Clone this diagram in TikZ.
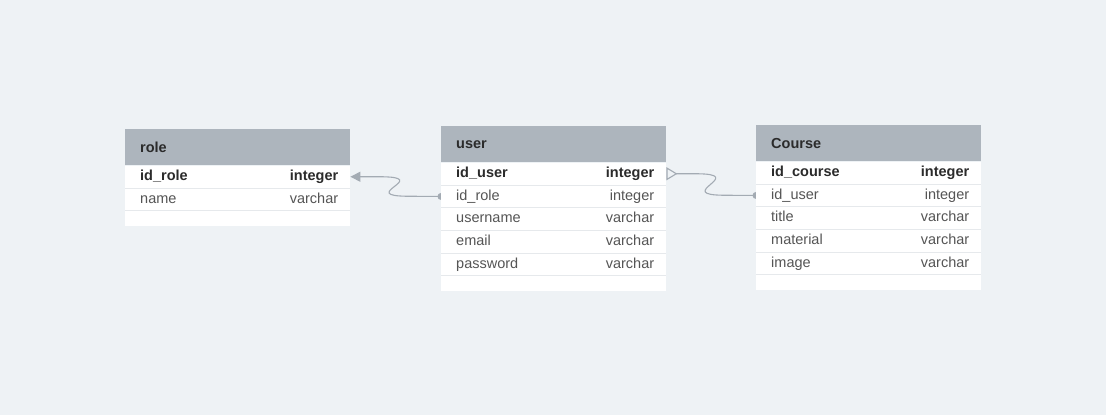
\documentclass[tikz,border=0pt]{standalone}
\usepackage{fontspec}
\setmainfont{Liberation Sans}
\usetikzlibrary{arrows.meta,positioning}
\definecolor{canvas}{HTML}{EEF2F5}
\definecolor{headgray}{HTML}{ADB5BD}
\definecolor{rowline}{HTML}{E6E9EC}
\definecolor{linkgray}{HTML}{A3ABB3}
\definecolor{ink}{HTML}{2B2B2B}
\definecolor{inksoft}{HTML}{555555}
\pgfdeclarelayer{back}
\pgfsetlayers{back,main}

\begin{document}
\begin{tikzpicture}[
  x=1pt,y=-1pt,
  node distance=0pt,
  head/.style={rectangle,fill=headgray,anchor=north west,minimum width=225pt,minimum height=36pt,inner xsep=15pt,inner ysep=0pt,text width=195pt,font=\fontsize{14.5}{17}\selectfont\bfseries,text=ink},
  field/.style={rectangle,fill=white,minimum width=225pt,minimum height=22.3pt,inner xsep=15pt,inner ysep=0pt,text width=195pt,text height=10.5pt,text depth=3pt,font=\fontsize{14.5}{17}\selectfont,text=inksoft},
  keyfield/.style={field,font=\fontsize{14.5}{17}\selectfont\bfseries,text=ink},
  pad/.style={field,minimum height=14.5pt,text height=0pt,text depth=0pt},
  type/.style={inner sep=0pt,text height=10.5pt,text depth=3pt,font=\fontsize{14.5}{17}\selectfont,text=inksoft},
  keytype/.style={type,font=\fontsize{14.5}{17}\selectfont\bfseries,text=ink},
  sep/.style={draw=rowline,line width=1pt},
  link/.style={draw=linkgray,line width=1.1pt}
]
  \begin{pgfonlayer}{back}
    \fill[canvas] (0,0) rectangle (1106,415);
  \end{pgfonlayer}

  % role
  \node[head] (role) at (125,129) {role};
  \node[keyfield,below=of role] (rid) {id\_role};
  \node[field,below=of rid] (rname) {name};
  \node[pad,below=of rname] (rpad) {};
  \node[keytype,left=12pt of rid.east] (ridt) {integer};
  \node[type,left=12pt of rname.east] (rnamet) {varchar};

  % user
  \node[head] (user) at (441,126) {user};
  \node[keyfield,below=of user] (uid) {id\_user};
  \node[field,below=of uid] (urole) {id\_role};
  \node[field,below=of urole] (uname) {username};
  \node[field,below=of uname] (umail) {email};
  \node[field,below=of umail] (upass) {password};
  \node[pad,below=of upass] (upad) {};
  \node[keytype,left=12pt of uid.east] (uidt) {integer};
  \node[type,left=12pt of urole.east] (urolet) {integer};
  \node[type,left=12pt of uname.east] (unamet) {varchar};
  \node[type,left=12pt of umail.east] (umailt) {varchar};
  \node[type,left=12pt of upass.east] (upasst) {varchar};

  % Course
  \node[head] (course) at (756,125) {Course};
  \node[keyfield,below=of course] (cid) {id\_course};
  \node[field,below=of cid] (cuser) {id\_user};
  \node[field,below=of cuser] (ctitle) {title};
  \node[field,below=of ctitle] (cmat) {material};
  \node[field,below=of cmat] (cimg) {image};
  \node[pad,below=of cimg] (cpad) {};
  \node[keytype,left=12pt of cid.east] (cidt) {integer};
  \node[type,left=12pt of cuser.east] (cusert) {integer};
  \node[type,left=12pt of ctitle.east] (ctitlet) {varchar};
  \node[type,left=12pt of cmat.east] (cmatt) {varchar};
  \node[type,left=12pt of cimg.east] (cimgt) {varchar};

  \foreach \r in {rid,rname,uid,urole,uname,umail,upass,cid,cuser,ctitle,cmat,cimg}
    \draw[sep] (\r.south west) -- (\r.south east);

  % relations
  \begin{pgfonlayer}{back}
    \draw[link,{Triangle[length=10pt,width=10pt,fill=linkgray]}-] (rid.east) -- ++(29,0)
      .. controls +(55,0) and +(-55,0) .. ++(30,19.5) -- (urole.west);
    \fill[linkgray] (urole.west) circle (3.5pt);
    \draw[link,{Triangle[open,reversed,length=11pt,width=13pt]}-] (uid.east) -- ++(29,0)
      .. controls +(55,0) and +(-55,0) .. ++(30,21.5) -- (cuser.west);
    \fill[linkgray] (cuser.west) circle (3.5pt);
  \end{pgfonlayer}
\end{tikzpicture}
\end{document}
